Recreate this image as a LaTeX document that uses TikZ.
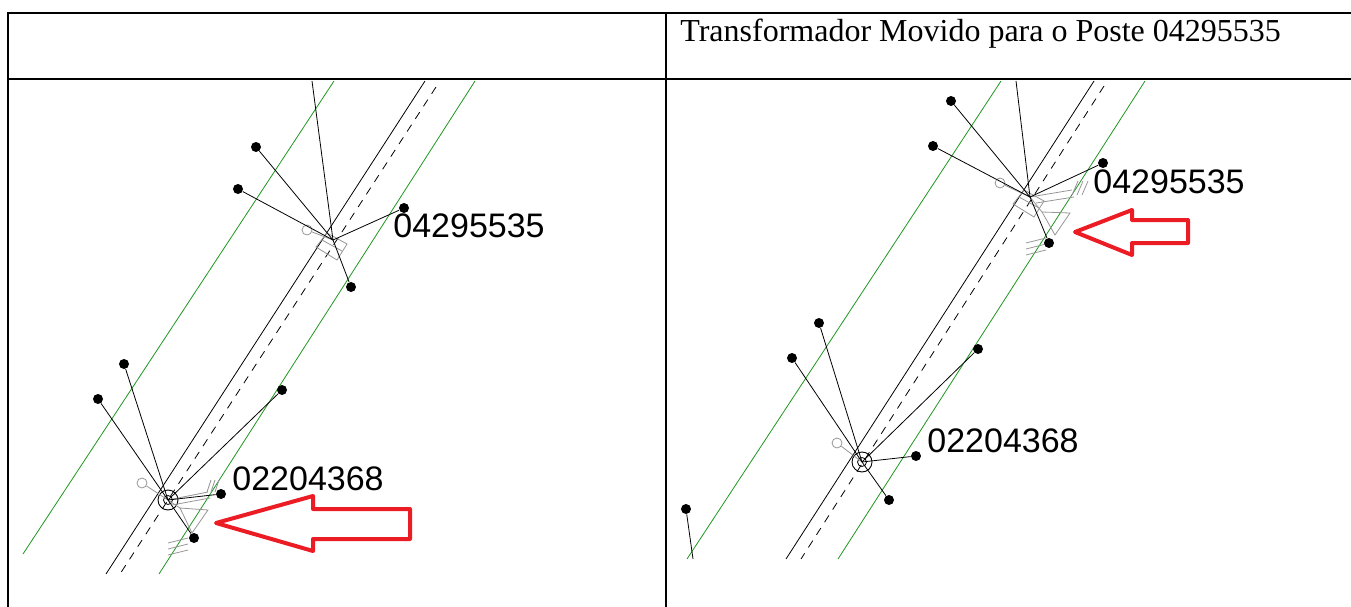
\documentclass[tikz,border=0pt]{standalone}
\usepackage{fontspec}
\setmainfont{Liberation Serif}
\newfontfamily\polefont{Liberation Sans}
\definecolor{mapgreen}{RGB}{30,150,30}
\definecolor{markred}{RGB}{236,28,36}
\definecolor{symgray}{RGB}{150,150,150}
\tikzset{
    dot/.style={circle, fill, inner sep=0pt, minimum size=10pt},
    polering/.style={circle, draw, inner sep=0pt, minimum size=20pt, line width=0.9pt},
    poleid/.style={anchor=base west, inner sep=0pt, font=\polefont\fontsize{34}{34}\selectfont},
    kerb/.style={mapgreen, line width=0.8pt},
    axis/.style={dash pattern=on 8pt off 7pt},
    sym/.style={symgray, line width=0.8pt},
    marker/.style={markred, line width=4pt, line join=round},
}
\begin{document}
\begin{tikzpicture}[x=1pt, y=-1pt, line width=0.8pt]
    \useasboundingbox (0,0) rectangle (1351,607);

    \draw[line width=2pt] (8,13) rectangle (1362,620);
    \draw[line width=2pt] (8,79) -- (1362,79);
    \draw[line width=2pt] (666,13) -- (666,620);
    \node (title) [anchor=base west, inner sep=0pt, font=\fontsize{32}{32}\selectfont] at (680,42) {Transformador Movido para o Poste 04295535};

    \draw[kerb] (334,81) -- (23,554);
    \draw[kerb] (475,81) -- (159,574);
    \draw (425,81) -- (106,574);
    \draw[axis] (436,87) -- (120,574);

    \coordinate (p1) at (333,240);
    \coordinate (t1) at (312,81);
    \draw[sym] (316,247) -- (327,233) -- (347,244) -- (337,260) -- cycle;
    \draw[sym] (322,240) -- (342,251);
    \node (g1) [circle, draw=symgray, inner sep=0pt, minimum size=10pt] at (307,230) {};
    \draw[sym] (g1) -- (p1);
    \node (a1) [dot] at (256,147) {};
    \node (a2) [dot] at (238,189) {};
    \node (a3) [dot] at (404,208) {};
    \node (a4) [dot] at (351,287) {};
    \draw (t1) -- (p1);
    \foreach \n in {a1, a2, a3, a4} \draw (p1) -- (\n);
    \node (id1) [poleid] at (393,237) {04295535};

    \node (p2) [polering] at (168,500) {};
    \node (p2in) [circle, draw, inner sep=0pt, minimum size=9pt] at (168,500) {};
    \node (g2) [circle, draw=symgray, inner sep=0pt, minimum size=10pt] at (142,483) {};
    \draw[sym] (g2) -- (p2.center);
    \draw[sym] (p2.center) -- (208,492) (172,505) -- (210,498);
    \draw[sym] (180,508) -- (208,510) -- (192,533) -- cycle;
    \draw[sym] (p2.center) -- (180,508);
    \foreach \dx in {0,4,8} \draw[sym] (207+\dx,492) -- (211+\dx,480);
    \foreach \dy in {0,6,12} \draw[sym] (168,543+\dy) -- (188,538+\dy);
    \node (b1) [dot] at (124,364) {};
    \node (b2) [dot] at (98,399) {};
    \node (b3) [dot] at (282,390) {};
    \node (b4) [dot] at (221,494) {};
    \node (b5) [dot] at (194,538) {};
    \foreach \n in {b1, b2, b3, b4, b5} \draw (p2.center) -- (\n);
    \node (id2) [poleid] at (232,490) {02204368};
    \draw[marker] (216,523) -- (313,496) -- (313,509) -- (410,509) -- (410,539) -- (313,539) -- (313,551) -- cycle;

    \draw[kerb] (1001,81) -- (687,559);
    \draw[kerb] (1145,81) -- (838,559);
    \draw (1094,81) -- (786,559);
    \draw[axis] (1104,86) -- (801,559);

    \coordinate (q1) at (1030,197);
    \coordinate (t2) at (1016,81);
    \draw[sym] (1013,204) -- (1024,190) -- (1044,201) -- (1034,217) -- cycle;
    \draw[sym] (1019,197) -- (1039,208);
    \node (h1) [circle, draw=symgray, inner sep=0pt, minimum size=10pt] at (1000,183) {};
    \draw[sym] (h1) -- (q1);
    \draw[sym] (q1) -- (1072,190) (1036,203) -- (1074,197);
    \draw[sym] (1042,212) -- (1070,213) -- (1055,235) -- cycle;
    \draw[sym] (q1) -- (1042,212);
    \foreach \dx in {0,5,10} \draw[sym] (1072+\dx,195) -- (1078+\dx,181);
    \foreach \dy in {0,6,12} \draw[sym] (1026,243+\dy) -- (1046,238+\dy);
    \node (c1) [dot] at (951,101) {};
    \node (c2) [dot] at (933,146) {};
    \node (c3) [dot] at (1103,163) {};
    \node (c4) [dot] at (1049,243) {};
    \draw (t2) -- (q1);
    \foreach \n in {c1, c2, c3, c4} \draw (q1) -- (\n);
    \node (id3) [poleid] at (1093,193) {04295535};
    \draw[marker] (1075,232) -- (1132,210) -- (1132,220) -- (1188,220) -- (1188,243) -- (1132,243) -- (1132,255) -- cycle;

    \node (q2) [polering] at (862,462) {};
    \node (q2in) [circle, draw, inner sep=0pt, minimum size=9pt] at (862,462) {};
    \node (h2) [circle, draw=symgray, inner sep=0pt, minimum size=10pt] at (837,443) {};
    \draw[sym] (h2) -- (q2.center);
    \node (d1) [dot] at (819,323) {};
    \node (d2) [dot] at (792,358) {};
    \node (d3) [dot] at (978,349) {};
    \node (d4) [dot] at (916,456) {};
    \node (d5) [dot] at (889,500) {};
    \foreach \n in {d1, d2, d3, d4, d5} \draw (q2.center) -- (\n);
    \node (id4) [poleid] at (927,452) {02204368};

    \node (e1) [dot] at (686,509) {};
    \coordinate (t3) at (693,559);
    \draw (e1) -- (t3);
\end{tikzpicture}
\end{document}
